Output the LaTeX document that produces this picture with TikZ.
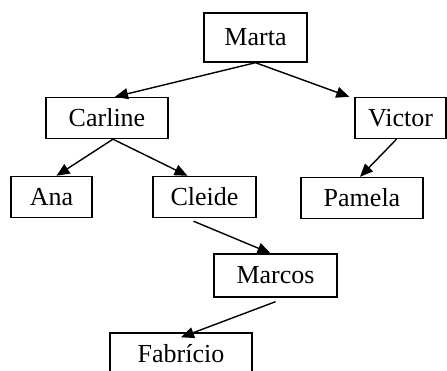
\documentclass[tikz,border=0pt]{standalone}
\usepackage{fontspec}
\setmainfont{Liberation Serif}
\usetikzlibrary{arrows.meta}
\tikzset{
	person/.style={draw,rectangle,line width=1.4pt,font=\fontsize{26}{30}\selectfont,
		inner sep=0pt,minimum height=41pt},
	link/.style={-{Triangle[length=13pt,width=11pt]},line width=1.4pt}
}
\begin{document}
\begin{tikzpicture}[x=1pt,y=-1pt]
	\useasboundingbox (0,0) rectangle (447,371);
	% levels of the family tree
	\node [person,minimum width=103pt,minimum height=49pt] (marta) at (255.5,37.5) {Marta};
	\node [person,minimum width=122pt] (carline) at (107,118) {Carline};
	\node [person,minimum width=91pt] (victor) at (400.5,118) {Victor};
	\node [person,minimum width=81pt] (ana) at (51.5,197) {Ana};
	\node [person,minimum width=103pt] (cleide) at (204.5,197) {Cleide};
	\node [person,minimum width=122pt] (pamela) at (362,198) {Pamela};
	\node [person,minimum width=123pt,minimum height=43pt] (marcos) at (275.5,275.5) {Marcos};
	\node [person,minimum width=142pt,minimum height=42pt] (fabricio) at (181,354) {Fabrício};
	% arrows
	\draw [link] (marta.south) -- ([xshift=8pt]carline.north);
	\draw [link] (marta.south) -- ([xshift=-5pt]victor.north west);
	\draw [link] ([xshift=6pt]carline.south) -- ([xshift=5pt]ana.north);
	\draw [link] ([xshift=6pt]carline.south) -- ([xshift=-17pt]cleide.north);
	\draw [link] ([xshift=-4pt]victor.south) -- ([xshift=-2pt]pamela.north);
	\draw [link] ([xshift=-11pt,yshift=-3pt]cleide.south) -- ([xshift=-5pt]marcos.north);
	\draw [link] ([yshift=-4pt]marcos.south) -- ([yshift=-5pt]fabricio.north);
\end{tikzpicture}
\end{document}
